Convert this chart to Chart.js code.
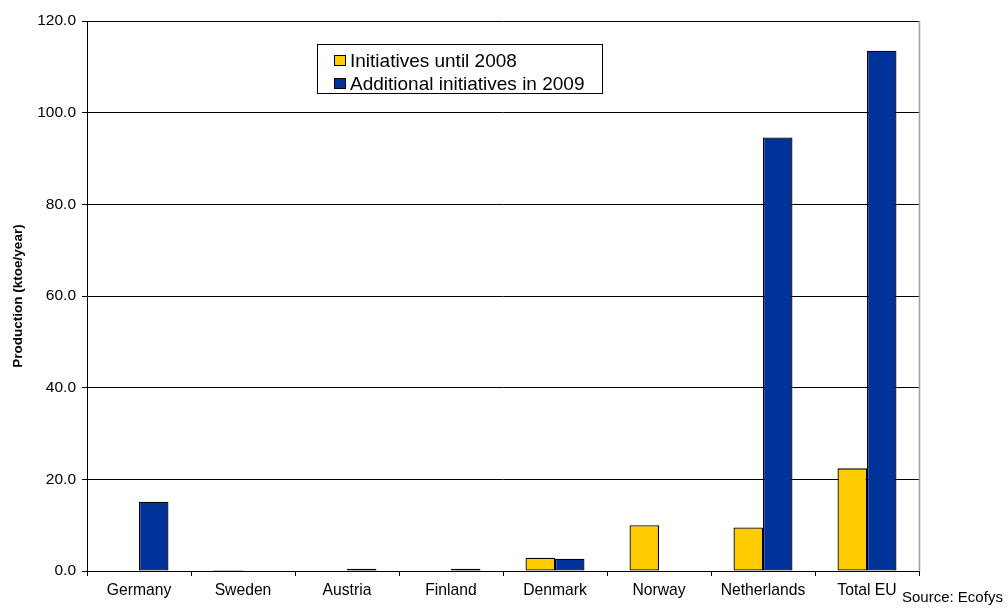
<!DOCTYPE html>
<html>
<head>
<meta charset="utf-8">
<script src="https://cdn.jsdelivr.net/npm/chart.js@4/dist/chart.umd.min.js"></script>
<style>
  html, body { margin: 0; padding: 0; background: #fff; }
  #wrap { width: 1008px; height: 608px; position: relative; }
</style>
</head>
<body>
<div id="wrap"><canvas id="c" width="1008" height="608"></canvas></div>
<script>
const categories = ["Germany", "Sweden", "Austria", "Finland", "Denmark", "Norway", "Netherlands", "Total EU"];
const until2008 = [0, 0.2, 0, 0, 2.9, 10.0, 9.5, 22.4];
const additional2009 = [15.1, 0, 0.5, 0.5, 2.7, 0, 94.6, 113.5];
const seriesNames = ["Initiatives until 2008", "Additional initiatives in 2009"];
const seriesColors = ["#FFCC00", "#003399"];
const yMin = 0, yMax = 120, yStep = 20;
const yTitle = "Production (ktoe/year)";
const sourceNote = "Source: Ecofys";

const FONT = "'Liberation Sans', Arial, sans-serif";

const overlay = {
  id: 'overlay',
  afterDraw(chart) {
    const ctx = chart.ctx;
    const a = chart.chartArea;
    ctx.save();
    // right plot border
    ctx.strokeStyle = '#a0a0a0';
    ctx.lineWidth = 1.5;
    ctx.beginPath();
    ctx.moveTo(a.right + 0.5, a.top);
    ctx.lineTo(a.right + 0.5, a.bottom);
    ctx.stroke();
    // legend box
    const bx = 317, by = 44, bw = 285, bh = 49;
    ctx.fillStyle = '#fff';
    ctx.fillRect(bx, by, bw, bh);
    ctx.strokeStyle = '#000';
    ctx.lineWidth = 1;
    ctx.strokeRect(bx + 0.5, by + 0.5, bw, bh);
    ctx.font = "19px " + FONT;
    ctx.textBaseline = 'middle';
    ctx.textAlign = 'left';
    chart.data.datasets.forEach((ds, i) => {
      const cy = 61 + i * 23;
      ctx.fillStyle = ds.backgroundColor;
      ctx.fillRect(334, cy - 5, 11, 10);
      ctx.strokeStyle = '#000';
      ctx.strokeRect(334.5, cy - 5.5, 11, 10);
      ctx.fillStyle = '#000';
      ctx.fillText(ds.label, 350, cy + 0.5);
    });
    // source note
    ctx.font = "15px " + FONT;
    ctx.fillStyle = '#000';
    ctx.textAlign = 'left';
    ctx.fillText(sourceNote, 902, 598);
    ctx.restore();
  }
};

new Chart(document.getElementById('c'), {
  type: 'bar',
  data: {
    labels: categories,
    datasets: [
      { label: seriesNames[0], data: until2008, backgroundColor: seriesColors[0], borderColor: '#000', borderWidth: 1.3, borderSkipped: false },
      { label: seriesNames[1], data: additional2009, backgroundColor: seriesColors[1], borderColor: '#000', borderWidth: 1.3, borderSkipped: false }
    ]
  },
  options: {
    responsive: false,
    animation: false,
    devicePixelRatio: 1,
    layout: { padding: { left: 0, top: 21, right: 89, bottom: 0 } },
    datasets: { bar: { categoryPercentage: 0.567, barPercentage: 1.0 } },
    plugins: { legend: { display: false }, tooltip: { enabled: false } },
    scales: {
      x: {
        grid: { drawOnChartArea: false, drawTicks: true, tickLength: 5, color: '#000', offset: true },
        border: { display: true, color: '#000', width: 1 },
        ticks: { color: '#000', font: { family: FONT, size: 15.7 }, padding: 5, maxRotation: 0 },
        afterFit(s) { s.height = 37; }
      },
      y: {
        min: yMin, max: yMax,
        grid: { color: '#000', lineWidth: 1, tickLength: 5, drawTicks: true },
        border: { display: true, color: '#000', width: 1 },
        ticks: { stepSize: yStep, color: '#000', font: { family: FONT, size: 15.5 }, padding: 6,
                 callback: v => Number(v).toFixed(1) },
        title: { display: true, text: yTitle, color: '#000', font: { family: FONT, size: 13.5, weight: 'bold' }, padding: { top: 10, bottom: 0 } },
        afterFit(s) { s.width = 87; }
      }
    }
  },
  plugins: [overlay]
});
</script>
</body>
</html>
